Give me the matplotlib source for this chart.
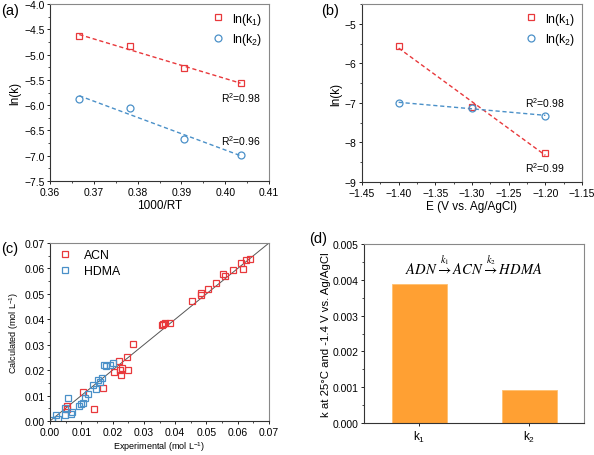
import matplotlib
matplotlib.use("Agg")
import matplotlib.pyplot as plt
import numpy as np
from matplotlib.ticker import AutoMinorLocator

plt.rcParams["font.family"] = ["Liberation Sans", "DejaVu Sans"]
plt.rcParams["mathtext.fontset"] = "custom"
plt.rcParams["mathtext.rm"] = "Liberation Sans"
plt.rcParams["mathtext.it"] = "Liberation Sans:italic"

RED = "#e8383b"
BLUE = "#4a90c8"
ORANGE = "#ffa033"

# (a) Arrhenius
inv_rt = [0.3667, 0.3782, 0.3905, 0.4035]
lnk1_a = [-4.64, -4.83, -5.27, -5.56]
lnk2_a = [-5.88, -6.05, -6.66, -6.99]

# (b) potential dependence
potential = [-1.40, -1.30, -1.20]
lnk1_b = [-5.55, -7.10, -8.26]
lnk2_b = [-7.00, -7.12, -7.33]

# (c) parity plot
acn_exp = [0.0638, 0.0628, 0.0609, 0.0585, 0.0617, 0.0560, 0.0553, 0.0530,
           0.0505, 0.0482, 0.0484, 0.0455, 0.0385, 0.0367, 0.0362, 0.0357,
           0.0264, 0.0247, 0.0250, 0.0223, 0.0219, 0.0229, 0.0204, 0.0226,
           0.0168, 0.0142, 0.0106, 0.0053, 0.0055]
acn_calc = [0.0638, 0.0632, 0.0621, 0.0592, 0.0596, 0.0569, 0.0577, 0.0543,
            0.0518, 0.0503, 0.0494, 0.0472, 0.0385, 0.0387, 0.0383, 0.0379,
            0.0304, 0.0252, 0.0202, 0.0199, 0.0236, 0.0210, 0.0193, 0.0180,
            0.0130, 0.0048, 0.0114, 0.0047, 0.0058]
hdma_exp = [0.0005, 0.0019, 0.0027, 0.0048, 0.0049, 0.0056, 0.0067, 0.0071,
            0.0093, 0.0099, 0.0106, 0.0113, 0.0122, 0.0138, 0.0147, 0.0155,
            0.0165, 0.0160, 0.0172, 0.0179, 0.0191, 0.0202]
hdma_calc = [0.0003, 0.0022, 0.0009, 0.0022, 0.0051, 0.0090, 0.0026, 0.0035,
             0.0058, 0.0066, 0.0072, 0.0092, 0.0105, 0.0140, 0.0125, 0.0163,
             0.0170, 0.0153, 0.0219, 0.0215, 0.0219, 0.0228]

# (d) rate constants
k_names = ["k$_1$", "k$_2$"]
k_values = [0.00387, 0.00091]

fig = plt.figure(figsize=(5.94, 4.56), dpi=100)
W, H = 594, 456


def add_ax(x0, y0, x1, y1):
    return fig.add_axes([x0 / W, 1 - y1 / H, (x1 - x0) / W, (y1 - y0) / H])


def style(ax, fs=7.5):
    for s in ["left", "bottom"]:
        ax.spines[s].set_color("#333333")
        ax.spines[s].set_linewidth(0.8)
    for s in ["top", "right"]:
        ax.spines[s].set_color("#888888")
        ax.spines[s].set_linewidth(0.8)
    ax.tick_params(direction="out", length=2.5, width=0.6, labelsize=fs, pad=1.5)
    ax.tick_params(which="minor", direction="out", length=1.5, width=0.5)
    ax.xaxis.set_minor_locator(AutoMinorLocator(2))
    ax.yaxis.set_minor_locator(AutoMinorLocator(2))


def fit_line(ax, x, y, color):
    p = np.polyfit(x, y, 1)
    xx = np.array([min(x), max(x)])
    ax.plot(xx, np.polyval(p, xx), ls=(0, (3, 2)), color=color, lw=1.0)


sq = dict(marker="s", ms=5, mfc="none", mew=0.9, ls="none")
ci = dict(marker="o", ms=5, mfc="none", mew=0.9, ls="none")

# ---- (a)
ax = add_ax(50, 5, 269, 182)
fit_line(ax, inv_rt, lnk1_a, RED)
fit_line(ax, inv_rt, lnk2_a, BLUE)
ax.plot(inv_rt, lnk1_a, color=RED, label="ln(k$_1$)", **sq)
ax.plot(inv_rt, lnk2_a, color=BLUE, label="ln(k$_2$)", **ci)
ax.set_xlim(0.36, 0.41)
ax.set_ylim(-7.5, -4.0)
ax.set_xticks(np.arange(0.36, 0.4101, 0.01))
ax.set_yticks(np.arange(-7.5, -3.99, 0.5))
ax.set_xlabel("1000/RT", fontsize=8.5, labelpad=2)
ax.set_ylabel("ln(k)", fontsize=8.5, labelpad=2)
style(ax)
ax.legend(loc="upper right", frameon=False, fontsize=8.8, handletextpad=0.4,
          borderaxespad=0.15, handlelength=1.5, labelspacing=0.35)
ax.text(0.4035, -5.7, "R$^2$=0.98", fontsize=7.5, ha="center", va="top")
ax.text(0.4035, -6.55, "R$^2$=0.96", fontsize=7.5, ha="center", va="top")
fig.text(1 / W, 1 - 15 / H, "(a)", fontsize=10.5)

# ---- (b)
ax = add_ax(362, 5, 582, 183)
fit_line(ax, potential, lnk1_b, RED)
fit_line(ax, potential, lnk2_b, BLUE)
ax.plot(potential, lnk1_b, color=RED, label="ln(k$_1$)", **sq)
ax.plot(potential, lnk2_b, color=BLUE, label="ln(k$_2$)", **ci)
ax.set_xlim(-1.45, -1.15)
ax.set_ylim(-9, -4.5)
ax.set_xticks(np.arange(-1.45, -1.149, 0.05))
ax.set_yticks(np.arange(-9, -4.9, 1))
ax.set_xlabel("E (V vs. Ag/AgCl)", fontsize=8.5, labelpad=2)
ax.set_ylabel("ln(k)", fontsize=8.5, labelpad=2)
style(ax)
ax.legend(loc="upper right", frameon=False, fontsize=8.8, handletextpad=0.4,
          borderaxespad=0.15, handlelength=1.5, labelspacing=0.35)
ax.text(-1.2, -6.8, "R$^2$=0.98", fontsize=7.5, ha="center", va="top")
ax.text(-1.2, -8.45, "R$^2$=0.99", fontsize=7.5, ha="center", va="top")
fig.text(321 / W, 1 - 15 / H, "(b)", fontsize=10.5)

# ---- (c)
ax = add_ax(50, 244, 269, 422)
ax.plot([0, 0.07], [0, 0.07], color="#555555", lw=0.7)
ax.plot(acn_exp, acn_calc, color=RED, label="ACN", **sq)
ax.plot(hdma_exp, hdma_calc, color=BLUE, label="HDMA", **sq)
ax.set_xlim(0, 0.07)
ax.set_ylim(0, 0.07)
ax.set_xticks(np.arange(0, 0.0701, 0.01))
ax.set_yticks(np.arange(0, 0.0701, 0.01))
ax.set_xlabel("Experimental (mol L$^{-1}$)", fontsize=6.5, labelpad=2)
ax.set_ylabel("Calculated (mol L$^{-1}$)", fontsize=6.5, labelpad=2)
style(ax)
ax.legend(loc="upper left", frameon=False, fontsize=8.8, handletextpad=0.8,
          borderaxespad=0.1, handlelength=1.5, labelspacing=0.3)
fig.text(1 / W, 1 - 253 / H, "(c)", fontsize=10.5)

# ---- (d)
ax = add_ax(364, 245, 584, 424)
ax.bar(range(len(k_values)), k_values, width=0.5, color=ORANGE,
       edgecolor="#ffc070", linewidth=0.6)
ax.set_xlim(-0.5, 1.5)
ax.set_ylim(0, 0.005)
ax.set_xticks(range(len(k_names)))
ax.set_xticklabels(k_names)
ax.set_yticks(np.arange(0, 0.00501, 0.001))
ax.set_yticklabels([f"{v:.3f}" for v in np.arange(0, 0.00501, 0.001)])
ax.set_ylabel("k at 25°C and -1.4 V vs. Ag/AgCl", fontsize=8.2, labelpad=1)
style(ax)
ax.xaxis.set_minor_locator(plt.NullLocator())
ax.tick_params(axis="x", labelsize=8.5)
ax.text(0.5, 0.0044, r"$ADN\overset{k_1}{\rightarrow}ACN\overset{k_2}{\rightarrow}HDMA$",
        fontsize=10.5, ha="center", va="center", math_fontfamily="stix")
fig.text(309 / W, 1 - 243 / H, "(d)", fontsize=10.5)

fig.savefig("out.png", dpi=100)
